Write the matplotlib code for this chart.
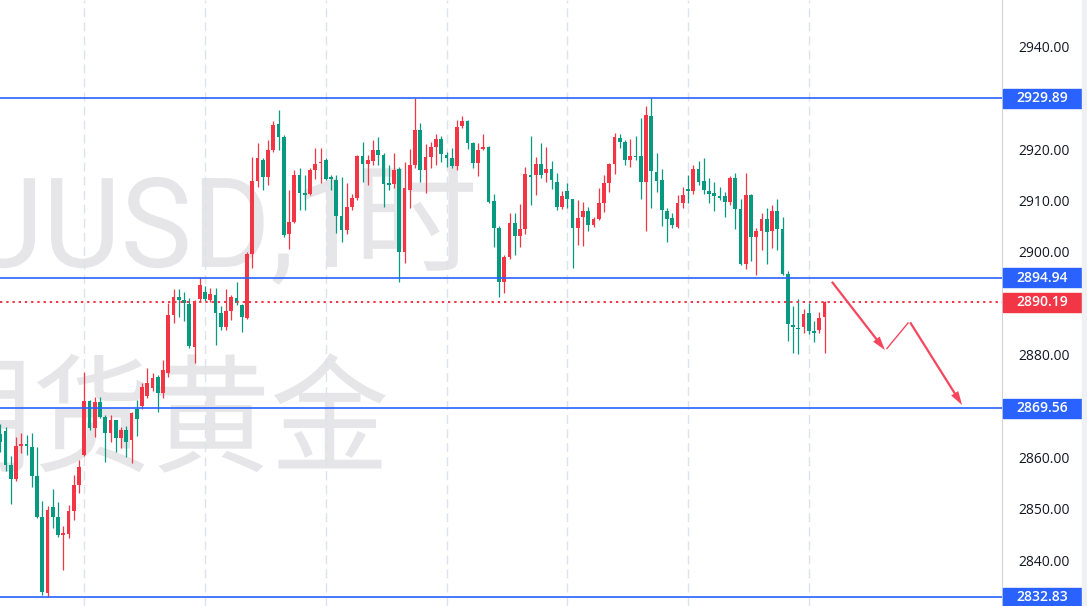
import numpy as np
import matplotlib
matplotlib.use("Agg")
from matplotlib import pyplot as plt
from matplotlib.patches import Rectangle, FancyArrowPatch, PathPatch
from matplotlib.textpath import TextPath
from matplotlib.font_manager import FontProperties
import matplotlib.transforms as mtransforms

# hourly candles (open, high, low, close)
opens = [2864.5, 2865.2, 2858.5, 2855.9, 2862.3, 2862.7, 2862.1, 2856.3, 2848.4, 2833.6,
         2850.3, 2848.4, 2844.9, 2845.1, 2849.5, 2854.6, 2860.5, 2870.9, 2865.7, 2870.7,
         2867.9, 2864.7, 2867.2, 2863.7, 2865.4, 2863.3, 2869.5, 2870.0, 2871.9, 2873.5,
         2875.7, 2872.5, 2876.4, 2887.8, 2891.3, 2890.7, 2889.9, 2881.5, 2890.8, 2892.2,
         2890.7, 2891.6, 2888.2, 2885.3, 2888.5, 2891.0, 2889.6, 2887.1, 2899.7, 2913.9,
         2917.9, 2914.5, 2919.9, 2924.9, 2922.4, 2903.5, 2905.9, 2915.0, 2911.4, 2911.3,
         2916.0, 2917.3, 2917.9, 2914.6, 2914.0, 2907.0, 2904.3, 2908.7, 2910.5, 2918.6,
         2917.1, 2917.8, 2919.9, 2918.9, 2913.4, 2913.2, 2916.1, 2899.9, 2912.0, 2916.9,
         2923.8, 2916.0, 2918.5, 2920.5, 2922.0, 2918.8, 2918.3, 2916.8, 2924.5, 2925.4,
         2921.2, 2917.3, 2920.0, 2920.5, 2909.9, 2904.6, 2894.2, 2899.1, 2905.6, 2903.2,
         2904.5, 2915.0, 2914.9, 2917.1, 2915.3, 2916.2, 2913.7, 2908.8, 2911.9, 2910.3,
         2904.7, 2906.8, 2907.9, 2905.3, 2906.4, 2909.5, 2913.4, 2917.1, 2922.2, 2921.5,
         2917.9, 2918.7, 2918.6, 2913.7, 2926.5, 2915.5, 2914.0, 2908.0, 2906.6, 2904.9,
         2909.6, 2912.3, 2911.8, 2916.1, 2913.9, 2911.9, 2911.5, 2910.9, 2910.9, 2909.8,
         2914.4, 2908.3, 2897.7, 2911.1, 2902.9, 2904.1, 2906.5, 2904.0, 2908.0, 2904.4,
         2895.8, 2885.8, 2885.2, 2885.3, 2888.2, 2884.5, 2884.8, 2887.4]
highs = [2866.5, 2866.0, 2860.2, 2864.0, 2864.7, 2864.4, 2864.7, 2862.1, 2851.6, 2850.5,
         2853.8, 2851.4, 2846.6, 2850.8, 2856.6, 2859.5, 2876.7, 2871.2, 2871.7, 2871.8,
         2868.2, 2868.3, 2867.3, 2866.0, 2866.2, 2868.9, 2871.2, 2874.5, 2877.4, 2876.5,
         2876.1, 2879.0, 2890.0, 2892.8, 2892.8, 2892.3, 2891.0, 2890.7, 2895.1, 2893.3,
         2893.0, 2892.9, 2889.4, 2892.8, 2891.6, 2894.2, 2889.9, 2900.0, 2918.4, 2921.2,
         2918.3, 2921.8, 2925.4, 2927.6, 2922.8, 2912.0, 2916.0, 2916.3, 2915.0, 2916.3,
         2920.2, 2920.2, 2918.2, 2915.0, 2915.0, 2914.5, 2913.4, 2911.3, 2918.9, 2921.5,
         2918.9, 2921.8, 2922.4, 2919.2, 2916.9, 2919.2, 2916.5, 2917.6, 2920.0, 2929.89,
         2925.1, 2921.0, 2921.5, 2923.0, 2922.5, 2919.5, 2920.2, 2925.7, 2926.4, 2925.7,
         2921.5, 2921.2, 2922.9, 2920.7, 2911.2, 2905.1, 2899.4, 2907.5, 2907.5, 2909.3,
         2916.6, 2922.6, 2918.4, 2921.2, 2920.5, 2917.7, 2915.3, 2911.9, 2913.4, 2910.4,
         2910.1, 2909.7, 2908.8, 2906.9, 2912.4, 2914.9, 2917.3, 2923.1, 2922.9, 2921.8,
         2921.9, 2922.6, 2926.1, 2928.5, 2929.89, 2919.2, 2916.2, 2908.6, 2907.5, 2911.1,
         2912.7, 2915.0, 2916.9, 2917.8, 2918.2, 2914.4, 2913.7, 2912.6, 2911.7, 2914.7,
         2915.4, 2910.4, 2915.3, 2911.3, 2904.6, 2907.6, 2908.5, 2909.2, 2910.4, 2906.8,
         2896.2, 2889.5, 2890.8, 2888.8, 2890.1, 2886.5, 2888.4, 2890.4]
lows = [2861.0, 2857.3, 2850.9, 2855.5, 2860.8, 2860.5, 2854.3, 2848.2, 2833.3, 2832.83,
        2846.2, 2844.6, 2838.1, 2844.3, 2847.9, 2853.0, 2860.3, 2865.4, 2864.0, 2867.6,
        2859.2, 2863.1, 2861.1, 2861.8, 2860.1, 2858.9, 2864.2, 2869.5, 2871.5, 2873.0,
        2868.9, 2871.5, 2875.7, 2886.1, 2887.4, 2886.5, 2881.3, 2878.4, 2890.3, 2890.5,
        2890.3, 2881.9, 2884.9, 2884.9, 2886.8, 2889.7, 2884.5, 2887.0, 2896.8, 2912.7,
        2912.1, 2913.1, 2919.5, 2919.9, 2903.0, 2900.5, 2905.7, 2908.2, 2908.2, 2911.1,
        2914.2, 2913.4, 2914.0, 2912.1, 2903.6, 2902.0, 2903.5, 2908.2, 2910.1, 2913.7,
        2913.1, 2916.9, 2916.9, 2908.8, 2912.0, 2912.4, 2894.2, 2897.8, 2908.5, 2916.3,
        2913.7, 2911.5, 2916.3, 2917.0, 2917.5, 2916.5, 2916.4, 2915.9, 2924.2, 2920.0,
        2916.3, 2914.7, 2919.8, 2909.6, 2901.0, 2891.3, 2892.0, 2898.7, 2899.4, 2901.0,
        2903.5, 2909.1, 2911.1, 2914.4, 2913.7, 2912.3, 2908.2, 2908.4, 2908.5, 2896.8,
        2901.4, 2901.2, 2904.0, 2904.9, 2906.2, 2907.7, 2911.7, 2915.1, 2920.2, 2916.9,
        2916.6, 2917.9, 2910.3, 2904.0, 2908.6, 2911.6, 2905.1, 2902.0, 2904.7, 2904.7,
        2908.5, 2909.6, 2911.3, 2913.1, 2911.3, 2909.5, 2908.0, 2910.1, 2906.9, 2909.2,
        2904.4, 2897.5, 2896.6, 2898.3, 2895.6, 2900.4, 2897.7, 2900.7, 2900.4, 2895.6,
        2882.6, 2880.3, 2880.2, 2884.2, 2884.0, 2882.4, 2884.2, 2880.3]
closes = [2863.0, 2858.5, 2855.9, 2862.3, 2862.7, 2862.3, 2856.3, 2848.5, 2833.8, 2849.8,
          2848.5, 2844.9, 2845.2, 2849.6, 2854.6, 2858.1, 2870.9, 2865.7, 2870.7, 2867.9,
          2864.7, 2867.2, 2863.7, 2865.4, 2863.1, 2868.6, 2867.5, 2873.7, 2874.5, 2875.4,
          2872.5, 2877.1, 2887.8, 2891.3, 2890.6, 2890.0, 2881.6, 2890.3, 2893.6, 2890.8,
          2891.8, 2888.2, 2885.3, 2888.5, 2891.2, 2890.0, 2887.3, 2899.7, 2913.9, 2918.2,
          2914.5, 2919.9, 2924.7, 2922.4, 2903.3, 2905.9, 2915.0, 2911.4, 2911.0, 2916.0,
          2917.1, 2917.6, 2914.2, 2914.2, 2907.0, 2904.3, 2908.7, 2910.5, 2918.7, 2917.1,
          2917.9, 2919.9, 2918.9, 2913.2, 2913.0, 2916.0, 2899.9, 2912.4, 2916.9, 2923.8,
          2916.0, 2918.5, 2920.5, 2922.0, 2919.0, 2918.3, 2916.8, 2924.4, 2925.4, 2921.2,
          2917.3, 2919.9, 2920.5, 2909.8, 2904.6, 2894.2, 2899.1, 2905.6, 2903.2, 2904.5,
          2915.1, 2914.5, 2917.1, 2915.0, 2916.2, 2914.0, 2908.8, 2910.9, 2910.3, 2904.7,
          2906.7, 2908.0, 2905.3, 2906.4, 2909.5, 2913.4, 2917.1, 2922.4, 2921.5, 2917.9,
          2918.6, 2918.4, 2913.7, 2926.7, 2915.8, 2913.8, 2908.2, 2906.5, 2905.3, 2909.5,
          2911.1, 2911.8, 2916.1, 2913.7, 2912.1, 2911.3, 2910.9, 2910.5, 2909.8, 2914.4,
          2908.3, 2897.7, 2911.1, 2902.9, 2904.0, 2906.5, 2903.8, 2908.0, 2904.4, 2895.8,
          2886.0, 2885.4, 2885.0, 2887.9, 2884.7, 2884.3, 2887.1, 2890.19]

level_lines = [2929.89, 2894.94, 2869.56, 2832.83]
last_price = 2890.19
axis_ticks = [2840, 2850, 2860, 2880, 2900, 2910, 2920, 2940]
day_starts = [16, 39, 62, 85, 108, 131, 154]
# hand-drawn forecast arrows (bar index, price)
arrow_pts = [(158.4, 2894.2), (168.5, 2880.9), (168.8, 2881.1),
             (173.0, 2886.3), (173.3, 2886.3), (183.2, 2870.2)]
wm_symbol = "XAUUSD,1"
wm_interval = "时"
wm_name = "期货黄金"

UP = "#F23645"
DOWN = "#089981"
BLUE = "#2962FF"
WM = "#e6e6e9"

o = np.array(opens); h = np.array(highs); l = np.array(lows); c = np.array(closes)
x = np.arange(len(o))

W, H = 1087, 606
fig = plt.figure(figsize=(W / 100, H / 100), dpi=100)
ax = fig.add_axes([0, 0, 1002 / W, 1])


def watermark(s, family, size, right, base, sx=1.0, sy=1.0):
    # text as a path, placed in output pixels (y from the top), scaled freely
    tp = TextPath((0, 0), s, size=size, prop=FontProperties(family=family))
    ext = tp.get_extents()
    tr = mtransforms.Affine2D().scale(sx, sy).translate(right - ext.x1 * sx, H - base)
    ax.add_patch(PathPatch(tp, transform=tr, color=WM, lw=0, zorder=0.5))


watermark(wm_symbol, "Roboto", 125, 337, 267, sx=0.96)
watermark(wm_interval, "Noto Sans CJK SC", 124, 473, 262)
watermark(wm_name, "Noto Sans CJK SC", 128, 386, 462, sx=0.93)

for d in day_starts:
    ax.axvline(d, color="#dfe2ec", lw=1, dashes=(6.5, 3.6), zorder=1)

# candles
up = c >= o
cols = np.where(up, UP, DOWN)
ax.vlines(x, l, h, colors=cols, lw=0.9, zorder=2)
body_lo = np.minimum(o, c)
body_h = np.maximum(np.abs(c - o), 0.25)
ax.bar(x, body_h, bottom=body_lo, width=0.7, color=cols, edgecolor="none", zorder=3)

for lv in level_lines:
    ax.axhline(lv, color=BLUE, lw=1.2, zorder=4)
ax.axhline(last_price, color=UP, lw=1.4, linestyle=(0, (1.2, 2.0)), zorder=4)

# arrows
for a, b, head in [(arrow_pts[0], arrow_pts[1], True), (arrow_pts[2], arrow_pts[3], False),
                   (arrow_pts[4], arrow_pts[5], True)]:
    style = "simple,head_length=10,head_width=6,tail_width=1.6" if head else "simple,head_length=0.1,head_width=1,tail_width=1"
    ax.add_patch(FancyArrowPatch(a, b, arrowstyle=style, mutation_scale=1, color="#F6465D",
                                 lw=0, zorder=5, shrinkA=0, shrinkB=0))

ax.set_xlim(-0.06, 190.8)
ax.set_ylim(2831.08, 2949.05)

# right price scale
for s in ["top", "left", "bottom"]:
    ax.spines[s].set_visible(False)
ax.spines["right"].set_color("#d1d4dc")
ax.set_xticks([])
ax.yaxis.tick_right()
ax.set_yticks(axis_ticks)
ax.set_yticklabels(["%.2f" % t for t in axis_ticks])
ax.tick_params(axis="y", length=0, pad=12, labelsize=10, labelcolor="#131722")
for t in ax.get_yticklabels():
    t.set_family("Open Sans")

trans = mtransforms.blended_transform_factory(ax.transAxes, ax.transData)
for lv, col in [(v, BLUE) for v in level_lines] + [(last_price, UP)]:
    ax.add_patch(Rectangle((1.001, lv - 1.85), 79 / 1002, 3.7, transform=trans, color=col,
                           clip_on=False, zorder=6))
    ax.text(1.001 + 39.5 / 1002, lv, "%.2f" % lv, transform=trans, ha="center", va="center",
            color="white", fontsize=10, family="Open Sans", fontweight="semibold",
            clip_on=False, zorder=7)

fig.patches.append(Rectangle((1082 / W, 0), 5 / W, 1, transform=fig.transFigure,
                             color="#eef0f4", zorder=0))

plt.savefig("out.png", dpi=100)
